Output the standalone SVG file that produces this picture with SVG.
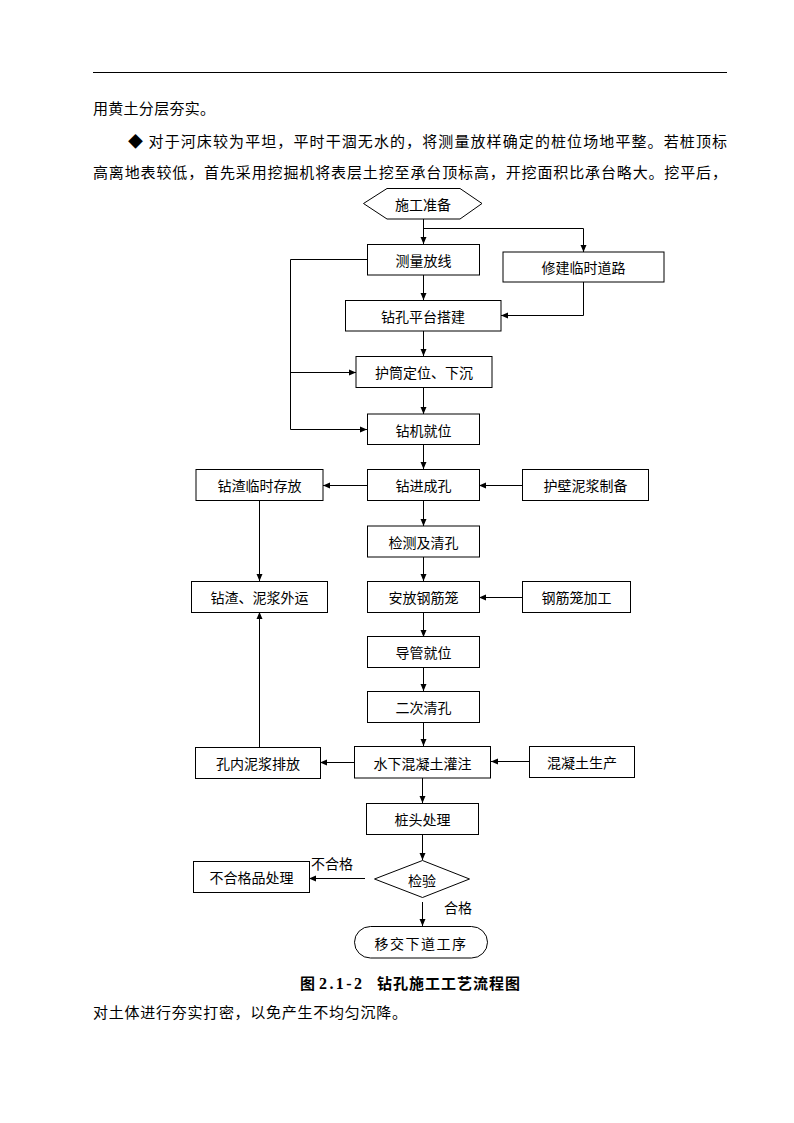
<svg xmlns="http://www.w3.org/2000/svg" width="794" height="1123" viewBox="0 0 794 1123">
<style>
.bg{fill:#fff}
.box{fill:#fff;stroke:#000;stroke-width:1}
.ln{fill:none;stroke:#000;stroke-width:1}
.arr{marker-end:url(#ah)}
.t{font-family:"Noto Sans CJK SC","Liberation Sans",sans-serif;font-size:14px;fill:#000;text-anchor:middle;dominant-baseline:central}
.lb{font-family:"Noto Sans CJK SC","Liberation Sans",sans-serif;font-size:14px;fill:#000}
.body{font-family:"Noto Sans CJK SC","Liberation Sans",sans-serif;font-size:15px;fill:#000}
.cap{font-family:"Liberation Serif","Noto Sans CJK SC",serif;font-size:15px;font-weight:bold;fill:#000}
</style>
<defs>
<marker id="ah" markerUnits="userSpaceOnUse" markerWidth="7" markerHeight="7" refX="7" refY="3.5" orient="auto">
<path d="M0,0.5 L7,3.5 L0,6.5 z" fill="#000"/>
</marker>
</defs>
<rect class="bg" x="0" y="0" width="794" height="1123"/>

<g id="page-text">
<line x1="93" y1="72.5" x2="727" y2="72.5" stroke="#000" stroke-width="1"/>
<text class="body" x="93" y="114" textLength="122" lengthAdjust="spacing">用黄土分层夯实。</text>
<text class="body" x="128" y="147" textLength="599" lengthAdjust="spacing">◆ 对于河床较为平坦，平时干涸无水的，将测量放样确定的桩位场地平整。若桩顶标</text>
<text class="body" x="93" y="178" textLength="634" lengthAdjust="spacing">高离地表较低，首先采用挖掘机将表层土挖至承台顶标高，开挖面积比承台略大。挖平后，</text>
<text class="cap" y="989"><tspan x="300">图</tspan><tspan x="319" font-size="16" textLength="43" lengthAdjust="spacing">2.1-2</tspan><tspan x="377" textLength="143" lengthAdjust="spacing">钻孔施工工艺流程图</tspan></text>
<text class="body" x="93" y="1018" textLength="314" lengthAdjust="spacing">对土体进行夯实打密，以免产生不均匀沉降。</text>
</g>

<g id="connectors">
<line class="ln arr" x1="423.5" y1="219" x2="423.5" y2="244"/>
<polyline class="ln arr" points="423.5,228.5 583.5,228.5 583.5,252"/>
<line class="ln arr" x1="423.5" y1="275" x2="423.5" y2="300"/>
<polyline class="ln arr" points="583.5,282 583.5,315.5 501,315.5"/>
<line class="ln arr" x1="423.5" y1="331" x2="423.5" y2="356"/>
<line class="ln arr" x1="423.5" y1="387" x2="423.5" y2="414"/>
<polyline class="ln arr" points="367,259.5 290.5,259.5 290.5,429.5 367,429.5"/>
<line class="ln arr" x1="290.5" y1="372.5" x2="356" y2="372.5"/>
<line class="ln arr" x1="423.5" y1="444" x2="423.5" y2="469"/>
<line class="ln arr" x1="367" y1="485.5" x2="323" y2="485.5"/>
<line class="ln arr" x1="522" y1="485.5" x2="479" y2="485.5"/>
<line class="ln arr" x1="259.5" y1="500" x2="259.5" y2="581"/>
<line class="ln arr" x1="423.5" y1="500" x2="423.5" y2="526"/>
<line class="ln arr" x1="423.5" y1="557" x2="423.5" y2="581"/>
<line class="ln arr" x1="522" y1="597.5" x2="479" y2="597.5"/>
<line class="ln arr" x1="423.5" y1="612" x2="423.5" y2="637"/>
<line class="ln arr" x1="423.5" y1="667" x2="423.5" y2="691"/>
<line class="ln arr" x1="423.5" y1="722" x2="423.5" y2="746"/>
<line class="ln arr" x1="354" y1="762.5" x2="320" y2="762.5"/>
<line class="ln arr" x1="529" y1="761.5" x2="491" y2="761.5"/>
<line class="ln arr" x1="259.5" y1="747" x2="259.5" y2="612"/>
<line class="ln arr" x1="422.5" y1="778" x2="422.5" y2="803"/>
<line class="ln arr" x1="422.5" y1="834" x2="422.5" y2="860"/>
<line class="ln arr" x1="365" y1="878.5" x2="309" y2="878.5"/>
<line class="ln arr" x1="422.5" y1="902" x2="422.5" y2="926"/>
<text class="lb" x="311" y="869" font-size="13.5">不合格</text>
<text class="lb" x="444" y="913" font-size="13.5">合格</text>
</g>

<g id="n-start"><polygon class="box" points="363.5,203.5 387,188.5 460,188.5 482,203.5 460,219 387,219"/><text class="t" x="423" y="204">施工准备</text></g>
<g id="n-survey"><rect class="box" x="367.5" y="244.5" width="112" height="30.5"/><text class="t" x="423.5" y="260">测量放线</text></g>
<g id="n-road"><rect class="box" x="503" y="252" width="161" height="30"/><text class="t" x="583.5" y="267">修建临时道路</text></g>
<g id="n-platform"><rect class="box" x="345.5" y="300.5" width="155.5" height="30.5"/><text class="t" x="423" y="316">钻孔平台搭建</text></g>
<g id="n-casing"><rect class="box" x="356" y="356.5" width="136" height="31"/><text class="t" x="424" y="372">护筒定位、下沉</text></g>
<g id="n-rig"><rect class="box" x="367.5" y="414" width="112" height="30.5"/><text class="t" x="423.5" y="429.5">钻机就位</text></g>
<g id="n-drill"><rect class="box" x="367.5" y="469.5" width="112" height="31"/><text class="t" x="423.5" y="485">钻进成孔</text></g>
<g id="n-spoil"><rect class="box" x="196" y="469.5" width="127" height="31"/><text class="t" x="259.5" y="485">钻渣临时存放</text></g>
<g id="n-slurry"><rect class="box" x="522.5" y="469.5" width="126" height="31"/><text class="t" x="585.5" y="485">护壁泥浆制备</text></g>
<g id="n-inspect"><rect class="box" x="367.5" y="526" width="112" height="31"/><text class="t" x="423.5" y="541.5">检测及清孔</text></g>
<g id="n-haul"><rect class="box" x="191.5" y="581.5" width="136" height="31"/><text class="t" x="259.5" y="597">钻渣、泥浆外运</text></g>
<g id="n-cage"><rect class="box" x="367.5" y="581.5" width="112" height="31"/><text class="t" x="423.5" y="597">安放钢筋笼</text></g>
<g id="n-cagefab"><rect class="box" x="522.5" y="581.5" width="108" height="31"/><text class="t" x="576.5" y="597">钢筋笼加工</text></g>
<g id="n-tremie"><rect class="box" x="367.5" y="636.5" width="112" height="31"/><text class="t" x="423.5" y="652">导管就位</text></g>
<g id="n-clean2"><rect class="box" x="367.5" y="691.5" width="112" height="31"/><text class="t" x="423.5" y="707">二次清孔</text></g>
<g id="n-discharge"><rect class="box" x="195.5" y="747.5" width="125" height="31"/><text class="t" x="258" y="763">孔内泥浆排放</text></g>
<g id="n-pour"><rect class="box" x="354.5" y="746.5" width="136" height="31.5"/><text class="t" x="422.5" y="762.5">水下混凝土灌注</text></g>
<g id="n-concrete"><rect class="box" x="529.5" y="746.5" width="105" height="31"/><text class="t" x="582" y="762">混凝土生产</text></g>
<g id="n-pilehead"><rect class="box" x="366.5" y="803.5" width="112" height="31"/><text class="t" x="422.5" y="819">桩头处理</text></g>
<g id="n-check"><polygon class="box" points="374.5,879 422.5,860.5 469.5,879 422.5,897.5"/><text class="t" x="422" y="879.5">检验</text></g>
<g id="n-reject"><rect class="box" x="193.5" y="861.5" width="116" height="31"/><text class="t" x="251.5" y="877">不合格品处理</text></g>
<g id="n-end"><rect class="box" x="354.5" y="926.5" width="133" height="31.5" rx="16" ry="15.75"/><text class="t" x="421" y="942.5" font-size="13" letter-spacing="1.5">移交下道工序</text></g>
</svg>
